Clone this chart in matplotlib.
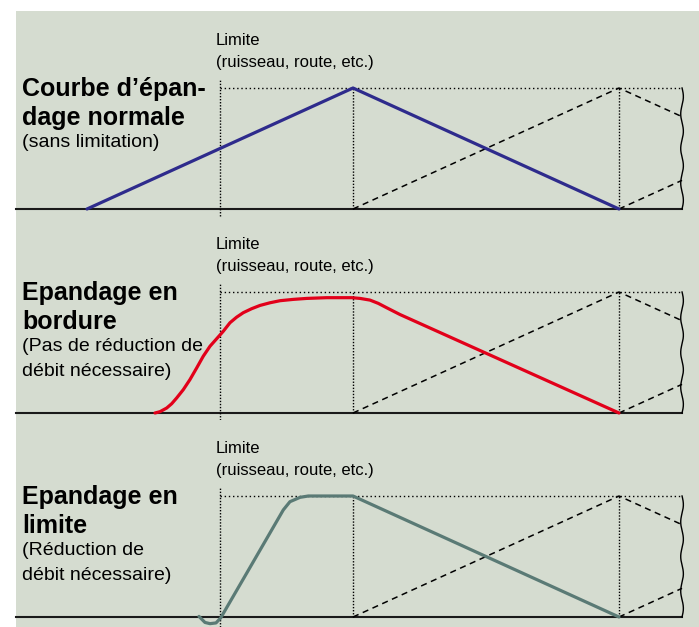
import numpy as np
import matplotlib.pyplot as plt
from matplotlib.patches import Rectangle

plt.rcParams['font.family'] = ['Liberation Sans', 'DejaVu Sans']

# ---- données (x : 0 = limite, 1 = pic ; y : 1 = dose nominale) ----
titres = [["Courbe d\u2019épan-", "dage normale"],
          ["Epandage en", "bordure"],
          ["Epandage en", "limite"]]
sous_titres = [["(sans limitation)"],
               ["(Pas de réduction de", "débit nécessaire)"],
               ["(Réduction de", "débit nécessaire)"]]
limite_txt = ["Limite", "(ruisseau, route, etc.)"]

x_normal = [-1.0, 1.0, 3.0]
y_normal = [0.0, 1.0, 0.0]

x_bordure = [-0.489, -0.451, -0.401, -0.363, -0.326, -0.276, -0.226, -0.175,
             -0.126, -0.075, -0.008, 0.025, 0.075, 0.125, 0.175, 0.238,
             0.301, 0.376, 0.451, 0.551, 0.652, 0.802, 0.99, 1.053, 1.128,
             1.19, 1.253, 1.303, 1.353, 3.0]
y_bordure = [0.0, 0.011, 0.041, 0.077, 0.124, 0.193, 0.276, 0.373,
             0.469, 0.552, 0.635, 0.676, 0.746, 0.792, 0.829, 0.862,
             0.889, 0.911, 0.928, 0.939, 0.947, 0.953, 0.953, 0.947, 0.933,
             0.906, 0.870, 0.842, 0.814, 0.0]

x_limite = [-0.158, -0.113, -0.075, -0.030, 0.005, 0.201, 0.476, 0.526,
            0.602, 0.664, 1.0, 3.0]
y_limite = [0.005, -0.045, -0.055, -0.049, -0.008, 0.363, 0.885, 0.953,
            0.989, 1.0, 1.0, 0.0]

courbes = [(x_normal, y_normal, '#2e2b8c'),
           (x_bordure, y_bordure, '#e2001a'),
           (x_limite, y_limite, '#5a7a75')]

x_bord_droit = 3.474
x_gauche = -1.534

W, H = 699, 627
fig = plt.figure(figsize=(W / 100, H / 100), dpi=100)
fig.patch.set_facecolor('white')
fig.patches.append(Rectangle((16 / W, 0), 1 - 16 / W, 1 - 11 / H,
                             transform=fig.transFigure, facecolor='#d5dcd0',
                             edgecolor='none', zorder=-10))

# zones des panneaux en pixels : (haut, bas, ligne de base)
panneaux = [(0, 220, 209), (220, 420, 413), (420, 627, 617)]
unite_x, unite_y = 133.0, 121.0
lim_bas = [-0.058, -0.058, -0.083]

for i, (haut, bas, base) in enumerate(panneaux):
    ax = fig.add_axes([0, 1 - bas / H, 1, (bas - haut) / H])
    ax.set_xlim(-220 / unite_x, (W - 220) / unite_x)
    ax.set_ylim((base - bas) / unite_y, (base - haut) / unite_y)
    ax.axis('off')
    ax.patch.set_alpha(0)

    # ligne de base
    ax.plot([x_gauche, x_bord_droit], [0, 0], color='#1a1a1a', lw=1.5, zorder=2)
    # ligne pointillée supérieure
    ax.plot([0, x_bord_droit], [1, 1], color='k', lw=1.0, ls=(0, (1, 2.0)))
    # limite
    ax.plot([0, 0], [lim_bas[i], 1.07], color='k', lw=1.0, ls=(0, (1, 1.2)))
    # verticales pointillées
    for xv in [1, 3]:
        ax.plot([xv, xv], [0, 1], color='k', lw=1.0, ls=(0, (1, 1.2)))
    # passages voisins (tirets)
    ax.plot([1, 3, x_bord_droit], [0, 1, 1 - (x_bord_droit - 3) / 2],
            color='k', lw=1.1, ls=(0, (4, 3)))
    ax.plot([3, x_bord_droit], [0, (x_bord_droit - 3) / 2],
            color='k', lw=1.1, ls=(0, (4, 3)))
    # coupure ondulée
    yy = np.linspace(0, 1, 200)
    ax.plot(x_bord_droit + 0.01 * np.sin(yy * 2 * np.pi * 3.5), yy,
            color='k', lw=1.0)

    # courbe d'épandage
    xc, yc, col = courbes[i]
    ax.plot(xc, yc, color=col, lw=2.3, solid_capstyle='round',
            solid_joinstyle='round', zorder=3)

    # textes
    x_txt = (22 - 220) / unite_x
    ax.text(-0.03, 1.39, limite_txt[0], fontsize=12, va='center', ha='left')
    ax.text(-0.03, 1.21, limite_txt[1], fontsize=12, va='center', ha='left')
    for k, t in enumerate(titres[i]):
        ax.text(x_txt, 0.995 - 0.243 * k, t, fontsize=18,
                fontweight='bold', va='center', ha='left')
    for k, t in enumerate(sous_titres[i]):
        ax.text(x_txt, 0.55 - 0.21 * k, t, fontsize=14, va='center', ha='left')

fig.savefig('out.png', dpi=100, facecolor='white')
